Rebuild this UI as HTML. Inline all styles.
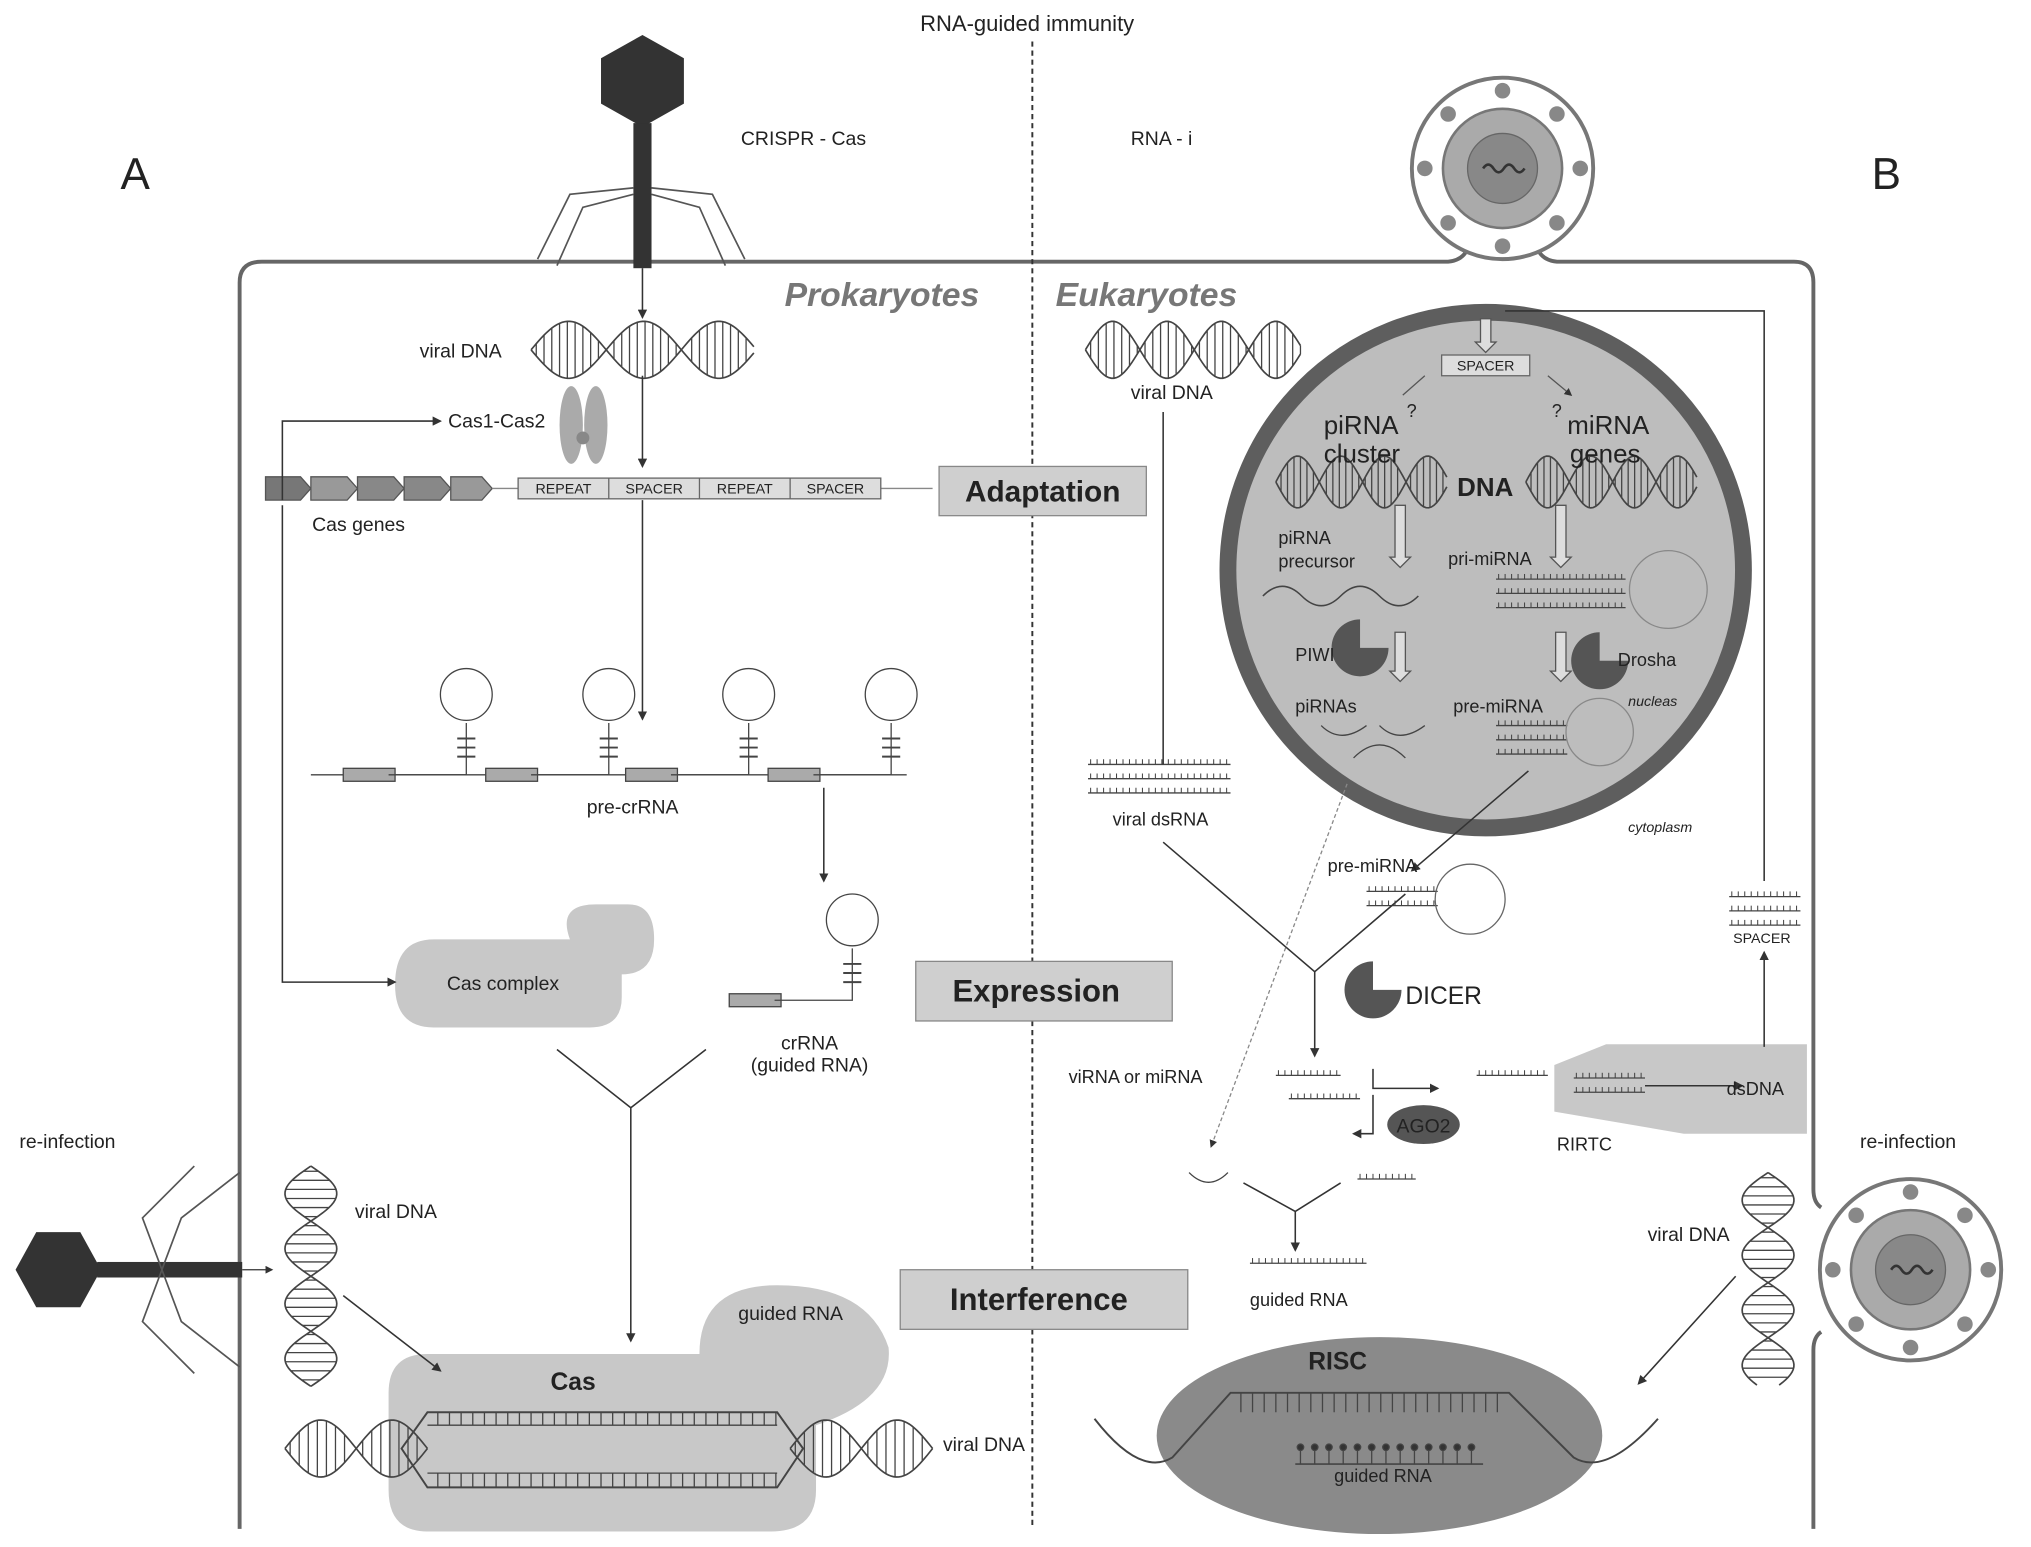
<!DOCTYPE html>
<html><head><meta charset="utf-8"><style>
html,body{margin:0;padding:0;background:#fff}
svg{display:block}
text{font-family:"Liberation Sans",sans-serif;fill:#222}
</style></head><body>
<svg id="s" width="2031" height="1547" viewBox="0 0 1568 1194" preserveAspectRatio="none" xmlns="http://www.w3.org/2000/svg">
<defs><marker id="ar" markerWidth="6" markerHeight="6" refX="5" refY="3" orient="auto"><path d="M0,0 L6,3 L0,6z" fill="#333"/></marker></defs>
<g id="bg">
<path d="M185,1180 V218 Q185,202 202,202 H1118 Q1128,201 1132,194 M1188,194 Q1192,201 1202,202 H1385 Q1400,202 1400,218 V918 Q1400,928 1406,932 M1406,1028 Q1400,1032 1400,1042 V1180" fill="none" stroke="#666" stroke-width="3"/>
<line x1="797" y1="32" x2="797" y2="1180" stroke="#333" stroke-width="1.5" stroke-dasharray="4,3"/>
<circle cx="1147" cy="440" r="199" fill="#bdbdbd" stroke="#5e5e5e" stroke-width="13"/>
<ellipse cx="1065" cy="1108" rx="172" ry="76" fill="#8a8a8a"/>
<path d="M330,1045 H540 Q540,992 600,992 Q670,992 686,1040 Q690,1080 630,1100 V1150 Q630,1182 595,1182 H330 Q300,1182 300,1150 V1075 Q300,1045 330,1045z" fill="#c8c8c8"/>
<path d="M335,725 H440 Q430,698 460,698 H485 Q505,698 505,725 Q505,752 480,752 V770 Q480,793 455,793 H335 Q305,793 305,760 Q305,725 335,725z" fill="#c8c8c8"/>
<polygon points="1200,822 1240,806 1395,806 1395,875 1300,875 1200,858" fill="#c8c8c8"/>
</g>
<g id="dyn" stroke="#444" fill="none"></g>
<rect x="725" y="360" width="160" height="38" fill="#cfcfcf" stroke="#888"/>
<text x="805" y="387" font-size="23" font-weight="bold" text-anchor="middle">Adaptation</text>
<rect x="707" y="742" width="198" height="46" fill="#cfcfcf" stroke="#888"/>
<text x="800" y="773" font-size="24" font-weight="bold" text-anchor="middle">Expression</text>
<rect x="695" y="980" width="222" height="46" fill="#cfcfcf" stroke="#888"/>
<text x="802" y="1011" font-size="24" font-weight="bold" text-anchor="middle">Interference</text>
<polygon points="496,27 528,45 528,80 496,98 464,80 464,45" fill="#333"/>
<rect x="489" y="95" width="14" height="112" fill="#333"/>
<g stroke="#555" fill="none" stroke-width="1.3">
<path d="M489,145 L440,150 L415,200 M489,150 L450,160 L430,205 M503,145 L550,150 L575,200 M503,150 L540,160 L560,205"/>
</g>
<polygon points="12,980 28,951 62,951 78,980 62,1009 28,1009" fill="#333"/>
<rect x="75" y="974" width="112" height="12" fill="#333"/>
<g stroke="#555" fill="none" stroke-width="1.3"><path d="M125,980 L110,940 L150,900 M125,980 L140,940 L185,905 M125,980 L110,1020 L150,1060 M125,980 L140,1020 L185,1055"/></g>
<line x1="187" y1="980" x2="210" y2="980" stroke="#333" marker-end="url(#ar)"/>
<g id="v1" transform="translate(1160,130)">
<circle r="70" fill="#fff" stroke="#777" stroke-width="3"/>
<g fill="#888"><circle cx="0" cy="-60" r="6"/><circle cx="0" cy="60" r="6"/><circle cx="-60" cy="0" r="6"/><circle cx="60" cy="0" r="6"/><circle cx="42" cy="42" r="6"/><circle cx="-42" cy="42" r="6"/><circle cx="42" cy="-42" r="6"/><circle cx="-42" cy="-42" r="6"/></g>
<circle r="46" fill="#aaa" stroke="#777" stroke-width="2"/><circle r="27" fill="#888" stroke="#666"/>
<path d="M-15,0 q4,-6 8,0 t8,0 t8,0 t8,0" stroke="#333" fill="none" stroke-width="2"/>
</g>
<g id="v2" transform="translate(1475,980)">
<circle r="70" fill="#fff" stroke="#777" stroke-width="3"/>
<g fill="#888"><circle cx="0" cy="-60" r="6"/><circle cx="0" cy="60" r="6"/><circle cx="-60" cy="0" r="6"/><circle cx="60" cy="0" r="6"/><circle cx="42" cy="42" r="6"/><circle cx="-42" cy="42" r="6"/><circle cx="42" cy="-42" r="6"/><circle cx="-42" cy="-42" r="6"/></g>
<circle r="46" fill="#aaa" stroke="#777" stroke-width="2"/><circle r="27" fill="#888" stroke="#666"/>
<path d="M-15,0 q4,-6 8,0 t8,0 t8,0 t8,0" stroke="#333" fill="none" stroke-width="2"/>
</g>
<g fill="#777" stroke="#555">
<polygon points="205,368 232,368 240,377 232,386 205,386"/><polygon points="240,368 268,368 276,377 268,386 240,386" fill="#999"/><polygon points="276,368 304,368 312,377 304,386 276,386" fill="#888"/><polygon points="312,368 340,368 348,377 340,386 312,386" fill="#888"/><polygon points="348,368 372,368 380,377 372,386 348,386" fill="#999"/>
</g>
<line x1="380" y1="377" x2="720" y2="377" stroke="#888"/>
<rect x="400" y="369" width="280" height="16" fill="#ddd" stroke="#666"/>
<g stroke="#666"><line x1="470" y1="369" x2="470" y2="385"/><line x1="540" y1="369" x2="540" y2="385"/><line x1="610" y1="369" x2="610" y2="385"/></g>
<g font-size="11" text-anchor="middle" fill="#444"><text x="435" y="381">REPEAT</text><text x="505" y="381">SPACER</text><text x="575" y="381">REPEAT</text><text x="645" y="381">SPACER</text></g>
<ellipse cx="441" cy="328" rx="9" ry="30" fill="#aaa"/><ellipse cx="460" cy="328" rx="9" ry="30" fill="#aaa"/><circle cx="450" cy="338" r="5" fill="#888"/>
<g stroke="#333" fill="none" stroke-width="1.2">
<path d="M496,207 V245" marker-end="url(#ar)"/>
<path d="M496,290 V360" marker-end="url(#ar)"/>
<path d="M496,386 V555" marker-end="url(#ar)"/>
<path d="M218,386 V325 H340" marker-end="url(#ar)"/>
<path d="M218,390 V758 H305" marker-end="url(#ar)"/>
<path d="M636,608 V680" marker-end="url(#ar)"/>
<path d="M430,810 L487,855 L545,810 M487,855 V1035" marker-end="url(#ar)"/>
<path d="M265,1000 L340,1058" marker-end="url(#ar)"/>
<path d="M898,318 V590"/>
<path d="M898,650 L1015,750 L1085,690 M1015,750 V815" marker-end="url(#ar)"/>
<path d="M1180,595 L1090,672" marker-end="url(#ar)"/>
<path d="M1060,825 V840 H1110" marker-end="url(#ar)"/>
<path d="M1060,845 V875 H1045" marker-end="url(#ar)"/>
<path d="M1270,838 H1345" marker-end="url(#ar)"/>
<path d="M1362,808 V735" marker-end="url(#ar)"/>
<path d="M1362,680 V240 H1162"/>
<path d="M960,913 L1000,935 L1035,913 M1000,935 V965" marker-end="url(#ar)"/>
<path d="M1340,985 L1265,1068" marker-end="url(#ar)"/>
</g>
<path d="M1040,605 L935,885" stroke="#888" stroke-dasharray="3,2" fill="none" marker-end="url(#ar)"/>
<rect x="1113" y="274" width="68" height="16" fill="#ddd" stroke="#666"/>
<text x="1147" y="286" font-size="11" text-anchor="middle" fill="#444">SPACER</text>
<g stroke="#555" fill="#ddd"><path d="M1143,246 h8 v18 h4 l-8,8 l-8,-8 h4z"/><path d="M1077,390 h8 v40 h4 l-8,8 l-8,-8 h4z"/><path d="M1201,390 h8 v40 h4 l-8,8 l-8,-8 h4z"/><path d="M1077,488 h8 v30 h4 l-8,8 l-8,-8 h4z"/><path d="M1201,488 h8 v30 h4 l-8,8 l-8,-8 h4z"/></g>
<path d="M1100,290 L1083,305 M1195,290 L1213,305" stroke="#555" marker-end="url(#ar)"/>
<path d="M1050,478 A22,22 0 1 0 1072,500 L1050,500z" fill="#555"/>
<path d="M1235,488 A22,22 0 1 0 1257,510 L1235,510z" fill="#555"/>
<path d="M1060,742 A22,22 0 1 0 1082,764 L1060,764z" fill="#555"/>
<ellipse cx="1099" cy="868" rx="28" ry="15" fill="#555"/>
<text x="1099" y="874" font-size="15" text-anchor="middle">AGO2</text>
<circle cx="1288" cy="455" r="30" fill="none" stroke="#888"/>
<circle cx="1235" cy="565" r="26" fill="none" stroke="#888"/>
<circle cx="1135" cy="694" r="27" fill="none" stroke="#666"/>
<text x="793" y="24" font-size="17" text-anchor="middle">RNA-guided immunity</text>
<text x="93" y="146" font-size="34">A</text>
<text x="1445" y="146" font-size="34">B</text>
<text x="572" y="112" font-size="15">CRISPR - Cas</text>
<text x="873" y="112" font-size="15">RNA - i</text>
<text x="756" y="236" font-size="26" font-weight="bold" font-style="italic" text-anchor="end" style="fill:#777">Prokaryotes</text>
<text x="815" y="236" font-size="26" font-weight="bold" font-style="italic" style="fill:#777">Eukaryotes</text>
<text x="324" y="276" font-size="15">viral DNA</text>
<text x="346" y="330" font-size="15">Cas1-Cas2</text>
<text x="241" y="410" font-size="15">Cas genes</text>
<text x="453" y="628" font-size="15">pre-crRNA</text>
<text x="345" y="764" font-size="15">Cas complex</text>
<text x="625" y="810" font-size="15" text-anchor="middle">crRNA</text>
<text x="625" y="827" font-size="15" text-anchor="middle">(guided RNA)</text>
<text x="15" y="886" font-size="15">re-infection</text>
<text x="274" y="940" font-size="15">viral DNA</text>
<text x="570" y="1019" font-size="15">guided RNA</text>
<text x="425" y="1073" font-size="19" font-weight="bold">Cas</text>
<text x="728" y="1120" font-size="15">viral DNA</text>
<text x="873" y="308" font-size="15">viral DNA</text>
<text x="1022" y="335" font-size="20">piRNA</text><text x="1086" y="322" font-size="14">?</text>
<text x="1022" y="357" font-size="20">cluster</text>
<text x="1198" y="322" font-size="14">?</text><text x="1210" y="335" font-size="20">miRNA</text>
<text x="1212" y="357" font-size="20">genes</text>
<text x="1125" y="383" font-size="20" font-weight="bold">DNA</text>
<text x="987" y="420" font-size="14">piRNA</text><text x="987" y="438" font-size="14">precursor</text>
<text x="1118" y="436" font-size="14">pri-miRNA</text>
<text x="1000" y="510" font-size="14">PIWI</text>
<text x="1249" y="514" font-size="14">Drosha</text>
<text x="1000" y="550" font-size="14">piRNAs</text>
<text x="1122" y="550" font-size="14">pre-miRNA</text>
<text x="1257" y="545" font-size="11" font-style="italic">nucleas</text>
<text x="1257" y="642" font-size="11" font-style="italic">cytoplasm</text>
<text x="859" y="637" font-size="14">viral dsRNA</text>
<text x="1025" y="673" font-size="14">pre-miRNA</text>
<text x="1085" y="775" font-size="19">DICER</text>
<text x="825" y="836" font-size="14">viRNA or miRNA</text>
<text x="1202" y="888" font-size="14">RIRTC</text>
<text x="1333" y="845" font-size="14">dsDNA</text>
<text x="1338" y="728" font-size="11">SPACER</text>
<text x="1436" y="886" font-size="15">re-infection</text>
<text x="1272" y="958" font-size="15">viral DNA</text>
<text x="965" y="1008" font-size="14">guided RNA</text>
<text x="1010" y="1057" font-size="19" font-weight="bold">RISC</text>
<text x="1030" y="1144" font-size="14">guided RNA</text>
</svg>
<script>
var g=document.getElementById('dyn'),NS='http://www.w3.org/2000/svg';
function el(t,a){var e=document.createElementNS(NS,t);for(var k in a)e.setAttribute(k,a[k]);g.appendChild(e);return e;}
function helixH(x0,x1,cy,amp,per,rung){var p1='',p2='';for(var x=x0;x<=x1;x+=2){var y=amp*Math.sin((x-x0)/per*2*Math.PI);p1+=(x==x0?'M':'L')+x+','+(cy+y);p2+=(x==x0?'M':'L')+x+','+(cy-y);}
el('path',{d:p1,'stroke-width':1.3});el('path',{d:p2,'stroke-width':1.3});
for(var x=x0+4;x<x1;x+=rung){var y=Math.abs(amp*Math.sin((x-x0)/per*2*Math.PI));if(y>3)el('line',{x1:x,y1:cy-y,x2:x,y2:cy+y,'stroke-width':1});}}
function helixV(cx,y0,y1,amp,per,rung){var p1='',p2='';for(var y=y0;y<=y1;y+=2){var x=amp*Math.sin((y-y0)/per*2*Math.PI);p1+=(y==y0?'M':'L')+(cx+x)+','+y;p2+=(y==y0?'M':'L')+(cx-x)+','+y;}
el('path',{d:p1,'stroke-width':1.3});el('path',{d:p2,'stroke-width':1.3});
for(var y=y0+4;y<y1;y+=rung){var x=Math.abs(amp*Math.sin((y-y0)/per*2*Math.PI));if(x>3)el('line',{x1:cx-x,y1:y,x2:cx+x,y2:y,'stroke-width':1});}}
helixH(410,582,270,22,116,6);
helixH(838,1005,270,22,84,6);
helixH(985,1118,372,20,67,5);
helixH(1178,1310,372,20,67,5);
helixV(240,900,1070,20,85,7);
helixV(1365,905,1070,20,85,7);
helixH(220,330,1118,22,110,7);
helixH(610,720,1118,22,110,7);
el('path',{d:'M310,1118 L330,1090 H600 L620,1118 L600,1148 H330z','stroke-width':1.5});
el('path',{d:'M330,1100 H600 M330,1137 H600','stroke-width':1});
for(var x=338;x<600;x+=9){el('line',{x1:x,y1:1090,x2:x,y2:1100,'stroke-width':1});el('line',{x1:x,y1:1137,x2:x,y2:1148,'stroke-width':1});}
el('path',{d:'M845,1095 Q880,1140 905,1125 L950,1075 H1165 L1215,1125 Q1240,1140 1280,1095','stroke-width':1.5});
for(var x=958;x<1160;x+=9)el('line',{x1:x,y1:1075,x2:x,y2:1090,'stroke-width':1});
el('line',{x1:1000,y1:1130,x2:1145,y2:1130,'stroke-width':1.2});
for(var x=1004;x<1145;x+=11){el('line',{x1:x,y1:1130,x2:x,y2:1118,'stroke-width':1});el('circle',{cx:x,cy:1117,r:2.5,fill:'#333'});}
function ds(x,y,w,n){for(var k=0;k<n;k++){var yy=y+k*11;el('line',{x1:x,y1:yy,x2:x+w,y2:yy,'stroke-width':1});for(var xx=x+2;xx<x+w;xx+=5)el('line',{x1:xx,y1:yy-4,x2:xx,y2:yy,'stroke-width':0.8});}}
ds(840,590,110,3);ds(1155,447,100,3);ds(1155,560,55,3);ds(1055,688,55,2);ds(985,830,50,1);ds(995,848,55,1);ds(1048,910,45,1);ds(1140,830,55,1);ds(1215,832,55,2);ds(1335,692,55,3);ds(965,975,90,1);
function rep(x,y){el('rect',{x:x,y:y-5,width:40,height:10,fill:'#aaa'});el('path',{d:'M'+(x+35)+','+y+' H'+(x+95)+' V'+(y-40),'stroke-width':1});el('circle',{cx:x+95,cy:y-62,r:20});
for(var k=0;k<3;k++)el('line',{x1:x+88,y1:y-14-k*7,x2:x+102,y2:y-14-k*7,'stroke-width':1.5});}
el('line',{x1:240,y1:598,x2:700,y2:598,'stroke-width':1});
rep(265,598);rep(375,598);rep(483,598);rep(593,598);
rep(563,772);
el('path',{d:'M975,460 q15,-15 30,0 t30,0 t30,0 t30,0','stroke-width':1.2});
el('path',{d:'M1045,585 q20,-20 40,0 M1020,560 q15,15 35,0 M1065,560 q15,15 35,0 M918,905 q15,15 30,0','stroke-width':1});
</script>
</body></html>
